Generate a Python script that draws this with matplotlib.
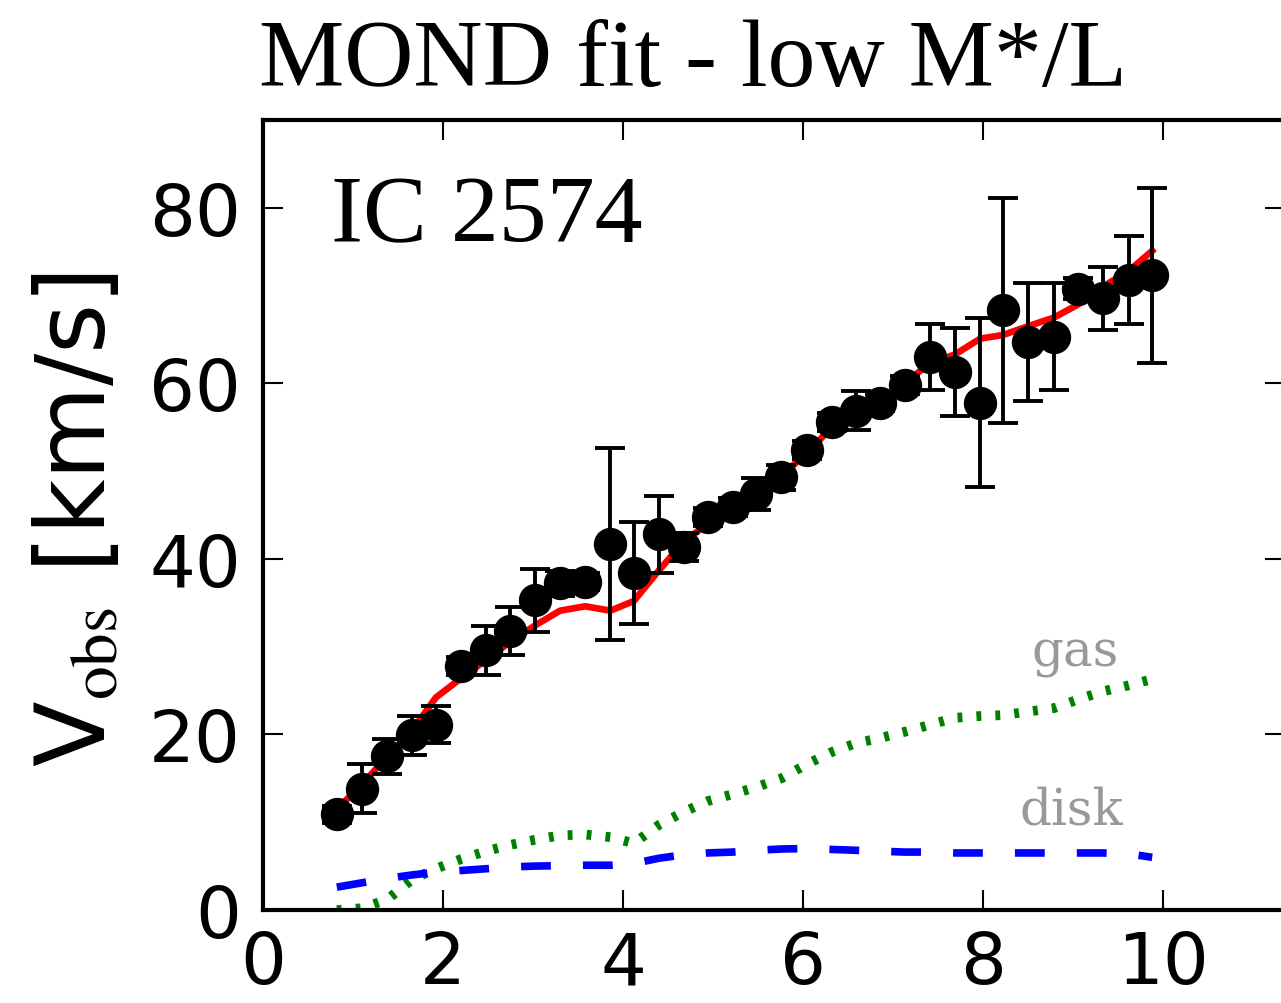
import matplotlib
matplotlib.use("Agg")
import matplotlib.pyplot as plt
import numpy as np

# ---- data ----
radius = [0.82, 1.10, 1.38, 1.66, 1.92, 2.20, 2.48, 2.74, 3.02, 3.30,
          3.58, 3.86, 4.12, 4.40, 4.68, 4.94, 5.22, 5.48, 5.76, 6.04,
          6.32, 6.59, 6.86, 7.13, 7.41, 7.69, 7.97, 8.22, 8.50, 8.79,
          9.06, 9.33, 9.62, 9.88]
v_obs = [10.9, 13.8, 17.5, 19.9, 21.1, 27.8, 29.6, 31.8, 35.3, 37.2,
         37.4, 41.7, 38.4, 42.8, 41.4, 44.8, 45.9, 47.4, 49.3, 52.4,
         55.6, 56.9, 57.8, 59.8, 63.0, 61.3, 57.8, 68.3, 64.7, 65.3,
         70.8, 69.7, 71.8, 72.3]
v_err = [1.0, 2.8, 2.0, 2.2, 2.1, 1.0, 2.8, 2.7, 3.6, 1.4,
         1.0, 10.9, 5.8, 4.4, 1.6, 1.0, 1.0, 1.8, 1.4, 1.0,
         1.0, 2.2, 1.0, 1.0, 3.8, 5.0, 9.6, 12.8, 6.7, 6.1,
         1.2, 3.6, 5.0, 10.0]
v_mond = [11.5, 14.3, 17.5, 20.5, 24.2, 26.4, 28.5, 30.5, 32.4, 34.1,
          34.6, 34.1, 35.2, 38.7, 42.0, 44.0, 45.7, 47.4, 49.5, 52.0,
          55.0, 56.7, 58.0, 60.0, 62.3, 63.3, 65.1, 65.5, 66.5, 67.5,
          69.0, 71.0, 72.8, 75.1]
v_gas = [0.0, 0.2, 1.2, 3.5, 4.7, 5.8, 6.7, 7.4, 8.0, 8.5,
         8.6, 8.3, 7.6, 9.7, 11.2, 12.4, 13.2, 14.0, 15.0, 16.6,
         18.0, 19.0, 19.6, 20.3, 21.1, 21.9, 22.1, 22.2, 22.6, 23.0,
         24.0, 24.9, 25.6, 26.3]
v_disk = [2.6, 3.1, 3.6, 4.0, 4.3, 4.5, 4.7, 4.9, 5.0, 5.05,
          5.1, 5.1, 5.3, 5.9, 6.3, 6.5, 6.6, 6.8, 6.95, 7.0,
          6.9, 6.8, 6.7, 6.6, 6.6, 6.5, 6.5, 6.5, 6.5, 6.5,
          6.5, 6.5, 6.4, 6.0]

title = "MOND fit - low M*/L"
galaxy = "IC 2574"
x_ticks = [0, 2, 4, 6, 8, 10]
y_ticks = [0, 20, 40, 60, 80]

plt.rcParams['mathtext.fontset'] = 'stix'
plt.rcParams['font.family'] = ['DejaVu Sans']

W, H = 1281, 1004
fig = plt.figure(figsize=(W / 100, H / 100), dpi=100)
left_px, right_px, top_px, bot_px = 263, 1285, 121, 911
ax = fig.add_axes([left_px / W, (H - bot_px) / H,
                   (right_px - left_px) / W, (bot_px - top_px) / H])

ax.plot(radius, v_gas, color='#008000', lw=7.0, linestyle=(0, (0.5, 1.45)),
        solid_capstyle='butt', dash_capstyle='butt', zorder=2)
ax.plot(radius, v_disk, color='#0000ff', lw=5.5, linestyle=(0, (3.9, 4.2)),
        dash_capstyle='butt', zorder=2)
ax.plot(radius, v_mond, color='#ff0000', lw=4.8, zorder=3)
ax.errorbar(radius, v_obs, yerr=v_err, fmt='o', color='black', ms=23,
            elinewidth=2.8, capsize=10.8, capthick=2.8, zorder=4)

ax.set_xlim(0, (right_px - left_px) / 90.0)
ax.set_ylim(0, 90)
ax.set_xticks(x_ticks)
ax.set_yticks(y_ticks)

for s in ax.spines.values():
    s.set_linewidth(3)
ax.tick_params(which='both', direction='in', top=True, right=True,
               length=14.5, width=1.5, labelsize=52)
ax.tick_params(axis='x', pad=14)
ax.tick_params(axis='y', pad=16)

ax.set_ylabel(r'V$_{\rm obs}$ [km/s]', fontsize=69)
ax.yaxis.set_label_coords(-0.135, 0.495)

fig.text(693 / W, (H - 86) / H, title, family='Liberation Serif',
         fontsize=69, ha='center', va='baseline')
ax.text((331 - left_px) / (right_px - left_px), (bot_px - 242) / (bot_px - top_px),
        galaxy, family='Liberation Serif', fontsize=69,
        transform=ax.transAxes, ha='left', va='baseline')

ax.text(8.54, 27.8, 'gas', family='DejaVu Serif', fontsize=36,
        color='#999999', ha='left', va='baseline')
ax.text(8.41, 9.8, 'disk', family='DejaVu Serif', fontsize=36,
        color='#999999', ha='left', va='baseline')

fig.savefig('out.png', dpi=100)
